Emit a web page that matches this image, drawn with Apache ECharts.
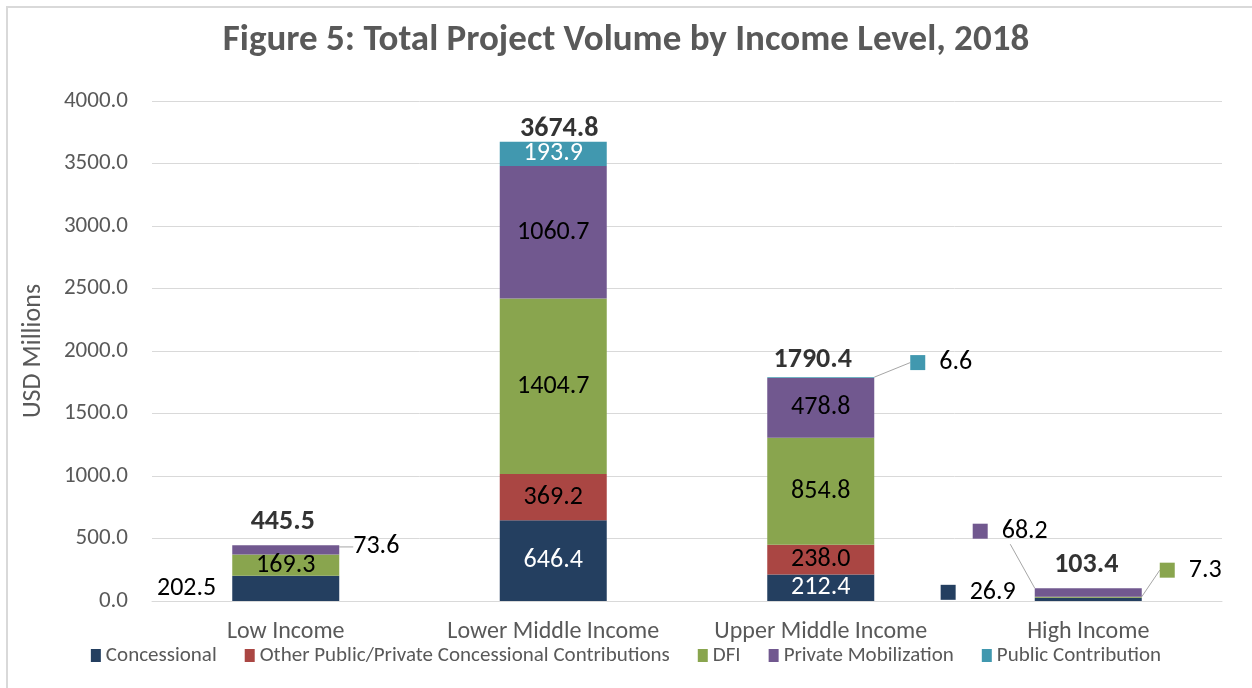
<!DOCTYPE html>
<html>
<head>
<meta charset="utf-8">
<script src="https://cdn.jsdelivr.net/npm/echarts@6/dist/echarts.min.js"></script>
<style>
  html, body { margin: 0; padding: 0; background: #fff; }
  #chart { width: 1252px; height: 688px; }
</style>
</head>
<body>
<div id="chart"></div>
<script>
var categories = ['Low Income', 'Lower Middle Income', 'Upper Middle Income', 'High Income'];
var concessional = [202.5, 646.4, 212.4, 26.9];
var otherConcessional = [0, 369.2, 238.0, 0];
var dfi = [169.3, 1404.7, 854.8, 7.3];
var privateMobilization = [73.6, 1060.7, 478.8, 68.2];
var publicContribution = [0, 193.9, 6.6, 0];
var totals = [445.5, 3674.8, 1790.4, 103.4];
var yTicks = [0, 500, 1000, 1500, 2000, 2500, 3000, 3500, 4000];

var FONT = 'Carlito, Calibri, Lato, sans-serif';
var colors = ['#243F60', '#AA4643', '#89A54E', '#71588F', '#4198AF'];
var VAL_SIZE = 26;

// labels that Excel moved outside the bars: [series]-[category]
var moved = {
	'0-0': { position: 'left', distance: 16 },
	'0-3': { position: 'left', distance: 19, dy: -7, key: true },
	'2-3': { position: 'right', distance: 0, dx: 18, dy: -27, key: true, line: true },
	'3-0': { position: 'right', distance: 0, dx: 14, dy: -3, line: true },
	'3-3': { position: 'top', distance: 0, dx: -78, dy: -44, key: true, line: true },
	'4-2': { position: 'right', distance: 0, dx: 36, dy: -15, key: true, line: true }
};
var whiteText = { '0-1': 1, '0-2': 1, '4-1': 1 };

function buildSeries(name, values, si) {
	return {
		name: name,
		type: 'bar',
		stack: 'total',
		barWidth: '40%',
		itemStyle: { color: colors[si] },
		data: values.map(function (v, ci) {
			var key = si + '-' + ci;
			var m = moved[key];
			var item = { value: v };
			if (!v) {
				item.label = { show: false };
				return item;
			}
			if (m) {
				item.label = {
					position: m.position,
					distance: m.distance,
					color: '#000',
					formatter: m.key ? '{sq|}{v|' + v.toFixed(1) + '}' : v.toFixed(1),
					rich: {
						sq: { width: 15, height: 15, backgroundColor: colors[si] },
						v: { fontSize: VAL_SIZE, fontFamily: FONT, color: '#000', padding: [0, 0, 0, 14] }
					}
				};
				item.labelLine = { show: !!m.line, lineStyle: { color: '#A6A6A6', width: 1 } };
			} else if (whiteText[key]) {
				item.label = { color: '#fff' };
			}
			return item;
		}),
		label: {
			show: true,
			position: 'inside',
			fontSize: VAL_SIZE,
			fontFamily: FONT,
			color: '#000',
			formatter: function (p) { return p.value.toFixed(1); }
		},
		labelLayout: function (p) {
			var m = moved[si + '-' + p.dataIndex];
			if (m && (m.dx || m.dy)) return { dx: m.dx || 0, dy: m.dy || 0 };
			return {};
		}
	};
}

var totalOffsets = [[-3, -5], [6, 6], [-8, 1], [-2, -5]];

var option = {
	animation: false,
	backgroundColor: '#fff',
	textStyle: { fontFamily: FONT },
	title: {
		text: 'Figure 5: Total Project Volume by Income Level, 2018',
		left: 'center',
		top: 17,
		textStyle: { fontFamily: FONT, fontSize: 37, fontWeight: 'bold', color: '#595959' }
	},
	legend: {
		bottom: 17,
		left: 'center',
		itemWidth: 10,
		itemHeight: 13,
		itemGap: 28,
		icon: 'rect',
		textStyle: { fontFamily: FONT, fontSize: 21, color: '#595959' },
		data: ['Concessional', 'Other Public/Private Concessional Contributions', 'DFI', 'Private Mobilization', 'Public Contribution']
	},
	grid: { left: 152, right: 30, top: 101, bottom: 87 },
	xAxis: {
		type: 'category',
		data: categories,
		axisTick: { show: false },
		axisLine: { lineStyle: { color: '#D9D9D9', width: 1 } },
		axisLabel: { interval: 0, fontFamily: FONT, fontSize: 24, color: '#595959', margin: 19 }
	},
	yAxis: {
		type: 'value',
		min: yTicks[0],
		max: yTicks[yTicks.length - 1],
		interval: 500,
		name: 'USD Millions',
		nameLocation: 'middle',
		nameGap: 106,
		nameTextStyle: { fontFamily: FONT, fontSize: 26, color: '#595959' },
		axisLine: { show: false },
		axisTick: { show: false },
		splitLine: { lineStyle: { color: '#D9D9D9', width: 1 } },
		axisLabel: {
			fontFamily: FONT, fontSize: 23, color: '#595959', margin: 24,
			formatter: function (v) { return v.toFixed(1); }
		}
	},
	graphic: [{
		type: 'rect',
		shape: { x: 7, y: 7, width: 1260, height: 700 },
		style: { fill: 'none', stroke: '#D9D9D9', lineWidth: 2 },
		silent: true
	}],
	series: [
		buildSeries('Concessional', concessional, 0),
		buildSeries('Other Public/Private Concessional Contributions', otherConcessional, 1),
		buildSeries('DFI', dfi, 2),
		buildSeries('Private Mobilization', privateMobilization, 3),
		buildSeries('Public Contribution', publicContribution, 4),
		{
			name: 'Total',
			type: 'scatter',
			symbolSize: 1,
			itemStyle: { color: 'rgba(0,0,0,0)' },
			z: 10,
			data: totals.map(function (v, i) {
				return { value: v, label: { offset: totalOffsets[i] } };
			}),
			label: {
				show: true,
				position: 'top',
				distance: 4,
				fontFamily: FONT,
				fontSize: 28,
				fontWeight: 'bold',
				color: '#000',
				formatter: function (p) { return p.value.toFixed(1); }
			}
		}
	]
};

var chart = echarts.init(document.getElementById('chart'));
chart.setOption(option);
</script>
</body>
</html>
